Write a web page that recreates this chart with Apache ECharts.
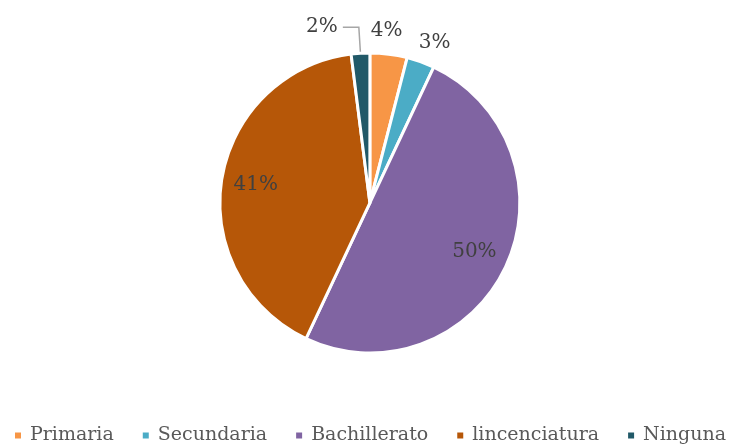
<!DOCTYPE html>
<html>
<head>
<meta charset="utf-8">
<script src="https://cdn.jsdelivr.net/npm/echarts@6/dist/echarts.min.js"></script>
<style>
  html, body { margin: 0; padding: 0; background: #fff; }
  #chart { width: 731px; height: 446px; }
</style>
</head>
<body>
<div id="chart"></div>
<script>
const categories = ['Primaria', 'Secundaria', 'Bachillerato', 'lincenciatura', 'Ninguna']
const values = [4, 3, 50, 41, 2]
const colors = ['#F79646', '#4BACC6', '#8064A2', '#B65708', '#215968']
// big slices get their label inside, small ones outside
const insideLabel = [false, false, true, true, false]

const font = 'DejaVu Serif'
const center = ['50.6%', '45.5%']
const R = 150

const chart = echarts.init(document.getElementById('chart'))

const pieData = categories.map((name, i) => {
  const item = {
    name: name,
    value: values[i],
    itemStyle: { color: colors[i] },
    label: { show: !insideLabel[i] },
    labelLine: { show: false, length: 0, length2: 0 }
  }
  if (name === 'Ninguna') {
    item.labelLine = { show: true, length: 26, length2: 16 }
  }
  return item
})

// transparent ring only used to place the inner labels at ~3/4 radius
const ringData = categories.map((name, i) => ({
  name: name,
  value: values[i],
  label: { show: insideLabel[i] }
}))

chart.setOption({
  animation: false,
  color: colors,
  legend: {
    top: 421,
    left: 8,
    right: 0,
    itemWidth: 8,
    itemHeight: 8,
    itemGap: 27,
    icon: 'rect',
    data: categories,
    textStyle: { fontFamily: font, fontSize: 19, color: '#595959', padding: [0, 0, 0, 3] }
  },
  series: [
    {
      type: 'pie',
      center: center,
      radius: R,
      startAngle: 90,
      clockwise: true,
      avoidLabelOverlap: false,
      percentPrecision: 0,
      itemStyle: { borderColor: '#fff', borderWidth: 3 },
      label: {
        position: 'outside',
        formatter: '{d}%',
        fontFamily: font,
        fontSize: 20,
        color: '#404040'
      },
      labelLine: {
        smooth: false,
        lineStyle: { color: '#A6A6A6', width: 1.5 }
      },
      // nudge the two small right-hand labels like the original best-fit placement
      labelLayout: function (params) {
        if (params.dataIndex === 0) return { dx: -23, dy: -23 }
        if (params.dataIndex === 1) return { dx: -7, dy: -19 }
        return {}
      },
      emphasis: { disabled: true },
      data: pieData
    },
    {
      type: 'pie',
      center: center,
      radius: [R * 0.5, R],
      startAngle: 90,
      clockwise: true,
      silent: true,
      percentPrecision: 0,
      itemStyle: { color: 'transparent' },
      label: {
        position: 'inside',
        formatter: '{d}%',
        fontFamily: font,
        fontSize: 20,
        color: '#404040'
      },
      labelLine: { show: false },
      data: ringData
    }
  ]
})
</script>
</body>
</html>
